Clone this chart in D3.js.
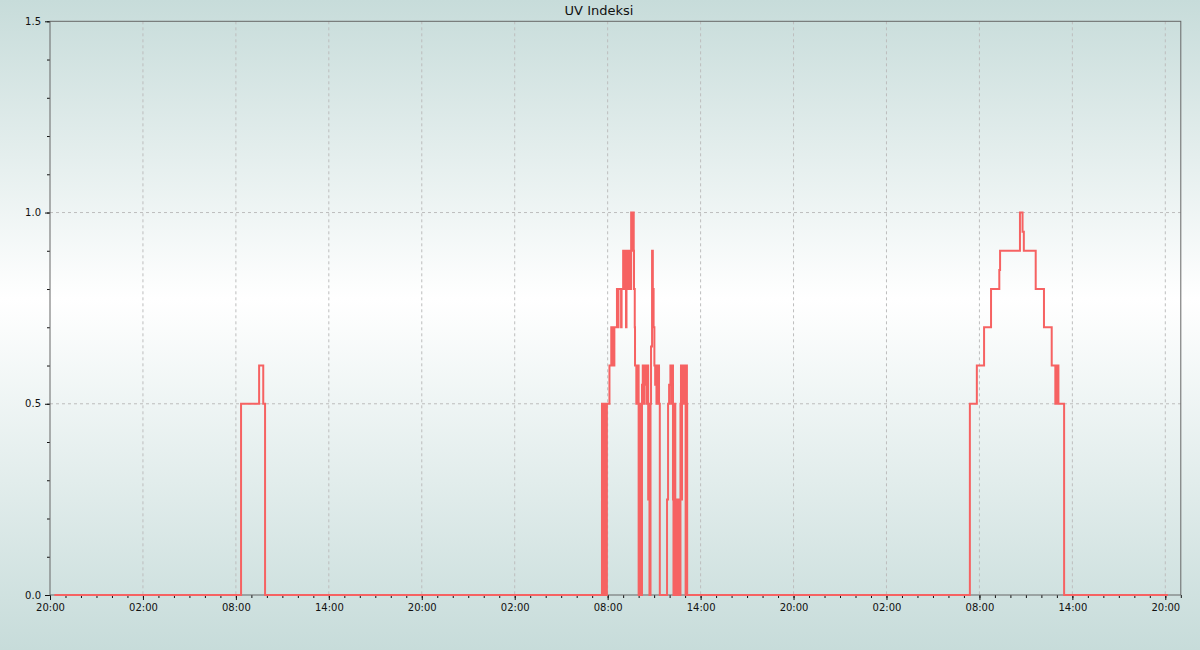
<!DOCTYPE html>
<html>
<head>
<meta charset="utf-8">
<script src="https://cdn.jsdelivr.net/npm/d3@7"></script>
<style>
  html, body { margin: 0; padding: 0; }
  svg { display: block; font-family: "DejaVu Sans", sans-serif; }
</style>
</head>
<body>
<svg id="chart" width="1200" height="650"></svg>
<script>
const chartTitle = "UV Indeksi";
const domainStart = "2024-01-14 20:00";
const domainEnd = "2024-01-17 21:00";
const yTickValues = [0, 0.5, 1.0, 1.5];

const times = [
  "2024-01-14 20:17",
  "2024-01-15 08:20", "2024-01-15 09:30", "2024-01-15 09:46", "2024-01-15 09:53",
  "2024-01-16 07:38", "2024-01-16 07:42", "2024-01-16 07:44", "2024-01-16 07:47", "2024-01-16 07:49",
  "2024-01-16 07:53", "2024-01-16 07:55", "2024-01-16 07:57", "2024-01-16 08:07", "2024-01-16 08:14",
  "2024-01-16 08:16", "2024-01-16 08:18", "2024-01-16 08:20", "2024-01-16 08:22", "2024-01-16 08:24",
  "2024-01-16 08:26", "2024-01-16 08:36", "2024-01-16 08:40", "2024-01-16 08:42", "2024-01-16 08:52",
  "2024-01-16 08:54", "2024-01-16 09:00", "2024-01-16 09:04", "2024-01-16 09:06", "2024-01-16 09:09",
  "2024-01-16 09:11", "2024-01-16 09:13", "2024-01-16 09:17", "2024-01-16 09:19", "2024-01-16 09:22",
  "2024-01-16 09:24", "2024-01-16 09:28", "2024-01-16 09:31", "2024-01-16 09:35", "2024-01-16 09:37",
  "2024-01-16 09:41", "2024-01-16 09:42", "2024-01-16 09:45", "2024-01-16 09:46", "2024-01-16 09:51",
  "2024-01-16 09:53", "2024-01-16 09:55", "2024-01-16 09:58", "2024-01-16 10:00", "2024-01-16 10:02",
  "2024-01-16 10:04", "2024-01-16 10:08", "2024-01-16 10:11", "2024-01-16 10:13", "2024-01-16 10:16",
  "2024-01-16 10:19", "2024-01-16 10:21", "2024-01-16 10:25", "2024-01-16 10:27", "2024-01-16 10:30",
  "2024-01-16 10:33", "2024-01-16 10:37", "2024-01-16 10:40", "2024-01-16 10:42", "2024-01-16 10:46",
  "2024-01-16 10:48", "2024-01-16 10:52", "2024-01-16 10:55", "2024-01-16 10:58", "2024-01-16 11:01",
  "2024-01-16 11:04", "2024-01-16 11:06", "2024-01-16 11:09", "2024-01-16 11:13", "2024-01-16 11:19",
  "2024-01-16 11:22", "2024-01-16 11:50", "2024-01-16 11:54", "2024-01-16 11:58", "2024-01-16 12:03",
  "2024-01-16 12:06", "2024-01-16 12:07", "2024-01-16 12:13", "2024-01-16 12:15", "2024-01-16 12:17",
  "2024-01-16 12:20", "2024-01-16 12:22", "2024-01-16 12:24", "2024-01-16 12:26", "2024-01-16 12:28",
  "2024-01-16 12:30", "2024-01-16 12:32", "2024-01-16 12:34", "2024-01-16 12:36", "2024-01-16 12:38",
  "2024-01-16 12:40", "2024-01-16 12:42", "2024-01-16 12:44", "2024-01-16 12:46", "2024-01-16 12:48",
  "2024-01-16 12:51", "2024-01-16 12:53", "2024-01-16 12:56", "2024-01-16 12:58", "2024-01-16 13:02",
  "2024-01-16 13:04", "2024-01-16 13:07", "2024-01-16 13:08",
  "2024-01-17 07:23", "2024-01-17 07:50", "2024-01-17 08:18", "2024-01-17 08:45", "2024-01-17 09:17",
  "2024-01-17 09:20", "2024-01-17 10:37", "2024-01-17 10:47", "2024-01-17 10:52", "2024-01-17 11:38",
  "2024-01-17 12:10", "2024-01-17 12:40", "2024-01-17 12:54", "2024-01-17 12:56", "2024-01-17 13:00",
  "2024-01-17 13:03", "2024-01-17 13:06", "2024-01-17 13:28", "2024-01-17 20:10"
];

const uvIndex = [
  0,
  0.5, 0.6, 0.5, 0,
  0.5, 0, 0.5, 0, 0.5,
  0.25, 0, 0.5, 0.6, 0.7,
  0.6, 0.7, 0.6, 0.7, 0.6,
  0.7, 0.8, 0.7, 0.8, 0.7,
  0.8, 0.9, 0.8, 0.9, 0.8,
  0.7, 0.9, 0.8, 0.9, 0.8,
  0.9, 0.8, 1.0, 0.9, 1.0,
  0.9, 0.8, 0.7, 0.6, 0.5,
  0.6, 0.5, 0.6, 0, 0.5,
  0, 0.5, 0, 0.55, 0.6,
  0.5, 0.6, 0.55, 0.6, 0.5,
  0.6, 0.25, 0.5, 0, 0.5,
  0.65, 0.9, 0.8, 0.7, 0.6,
  0.55, 0.6, 0.5, 0.6, 0.5,
  0, 0.25, 0.5, 0.55, 0.6,
  0.5, 0.6, 0.25, 0, 0.25,
  0.5, 0.25, 0, 0.25, 0,
  0.25, 0, 0.25, 0, 0.25,
  0, 0.5, 0.6, 0.25, 0.6,
  0.5, 0.6, 0.5, 0.6, 0,
  0.6, 0.5, 0,
  0.5, 0.6, 0.7, 0.8, 0.85,
  0.9, 1.0, 0.95, 0.9, 0.8,
  0.7, 0.6, 0.5, 0.6, 0.5,
  0.6, 0.5, 0, 0
];

const W = 1200, H = 650;
const margin = { top: 21.3, right: 19.2, bottom: 55, left: 50 };
const iw = W - margin.left - margin.right;
const ih = H - margin.top - margin.bottom;

const parse = d3.timeParse("%Y-%m-%d %H:%M");
const data = times.map((t, i) => ({ t: parse(t), v: uvIndex[i] }));

const svg = d3.select("#chart");

// background gradient
const defs = svg.append("defs");
const grad = defs.append("linearGradient").attr("id", "bg").attr("x1", 0).attr("y1", 0).attr("x2", 0).attr("y2", 1);
grad.append("stop").attr("offset", "0%").attr("stop-color", "#c7dcda");
grad.append("stop").attr("offset", "46%").attr("stop-color", "#ffffff");
grad.append("stop").attr("offset", "100%").attr("stop-color", "#c7dcda");
svg.append("rect").attr("width", W).attr("height", H).attr("fill", "url(#bg)");

const x = d3.scaleTime().domain([parse(domainStart), parse(domainEnd)]).range([0, iw]);
const y = d3.scaleLinear().domain([0, 1.5]).range([ih, 0]);

const g = svg.append("g").attr("transform", `translate(${margin.left},${margin.top})`);

const majorX = d3.timeHour.every(6).range ? d3.timeHour.range(parse(domainStart), x.domain()[1], 6) : [];
const minorX = d3.timeHour.range(parse(domainStart), d3.timeMinute.offset(x.domain()[1], 1), 1);
const minorY = d3.range(0, 1.5001, 0.1);

// grid lines
g.append("g").selectAll("line").data(majorX.filter(d => +d !== +x.domain()[0]))
  .join("line")
  .attr("x1", d => x(d)).attr("x2", d => x(d))
  .attr("y1", 0).attr("y2", ih)
  .attr("stroke", "#bdbdbd").attr("stroke-dasharray", "3,3").attr("stroke-width", 1);
g.append("g").selectAll("line").data(yTickValues.filter(v => v > 0 && v < 1.5))
  .join("line")
  .attr("x1", 0).attr("x2", iw)
  .attr("y1", d => y(d)).attr("y2", d => y(d))
  .attr("stroke", "#bdbdbd").attr("stroke-dasharray", "3,3").attr("stroke-width", 1);

// minor ticks
const xMinor = d3.axisBottom(x).tickValues(minorX).tickSize(3).tickFormat("");
g.append("g").attr("transform", `translate(0,${ih})`).call(xMinor)
  .call(s => s.select(".domain").remove())
  .call(s => s.selectAll("line").attr("stroke", "#111"));
const yMinor = d3.axisLeft(y).tickValues(minorY).tickSize(3).tickFormat("");
g.append("g").call(yMinor)
  .call(s => s.select(".domain").remove())
  .call(s => s.selectAll("line").attr("stroke", "#111"));

// major axes
const xAxis = d3.axisBottom(x).tickValues(majorX).tickSize(5).tickPadding(4).tickFormat(d3.timeFormat("%H:%M"));
g.append("g").attr("transform", `translate(0,${ih})`).call(xAxis)
  .call(s => s.select(".domain").remove())
  .call(s => s.selectAll("line").attr("stroke", "#111"))
  .call(s => s.selectAll("text").attr("font-size", 10).attr("font-family", "DejaVu Sans").attr("fill", "#111"));
const yAxis = d3.axisLeft(y).tickValues(yTickValues).tickSize(5).tickPadding(4).tickFormat(d3.format(".1f"));
g.append("g").call(yAxis)
  .call(s => s.select(".domain").remove())
  .call(s => s.selectAll("line").attr("stroke", "#111"))
  .call(s => s.selectAll("text").attr("font-size", 10).attr("font-family", "DejaVu Sans").attr("fill", "#111"));

// frame
g.append("rect").attr("x", 0).attr("y", 0).attr("width", iw).attr("height", ih)
  .attr("fill", "none").attr("stroke", "#666").attr("stroke-width", 1);

// line
const line = d3.line().x(d => x(d.t)).y(d => y(d.v)).curve(d3.curveStepAfter);
g.append("path").datum(data)
  .attr("d", line)
  .attr("fill", "none")
  .attr("stroke", "#f66262")
  .attr("stroke-width", 2)
  .attr("stroke-linejoin", "miter");

// title
svg.append("text").attr("x", 599).attr("y", 15).attr("text-anchor", "middle")
  .attr("font-size", 13).attr("font-family", "DejaVu Sans").attr("fill", "#111")
  .text(chartTitle);
</script>
</body>
</html>
